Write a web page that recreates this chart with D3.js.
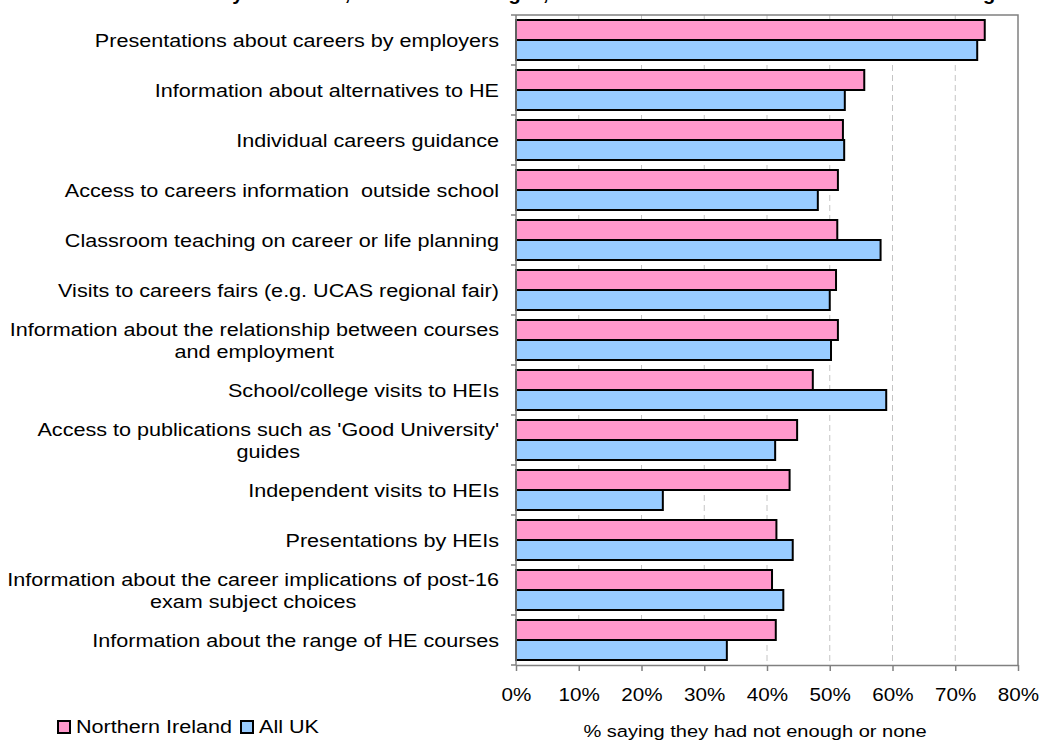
<!DOCTYPE html>
<html>
<head>
<meta charset="utf-8">
<script src="https://cdn.jsdelivr.net/npm/d3@7"></script>
<style>
  html, body { margin: 0; padding: 0; background: #ffffff; }
  svg { display: block; }
  text { font-family: "Liberation Sans", Arial, sans-serif; fill: #000; white-space: pre; }
</style>
</head>
<body>
<svg id="chart" width="1041" height="742"></svg>
<script>
// ---- data ----
const categories = [
  "Presentations about careers by employers",
  "Information about alternatives to HE",
  "Individual careers guidance",
  "Access to careers information  outside school",
  "Classroom teaching on career or life planning",
  "Visits to careers fairs (e.g. UCAS regional fair)",
  "Information about the relationship between courses\nand employment",
  "School/college visits to HEIs",
  "Access to publications such as 'Good University'\nguides",
  "Independent visits to HEIs",
  "Presentations by HEIs",
  "Information about the career implications of post-16\nexam subject choices",
  "Information about the range of HE courses"
];
const seriesNames = ["Northern Ireland", "All UK"];
const northernIreland = [74.7, 55.5, 52.1, 51.3, 51.2, 51.0, 51.3, 47.3, 44.8, 43.6, 41.5, 40.8, 41.4];
const allUK =           [73.5, 52.4, 52.3, 48.1, 58.1, 50.0, 50.2, 59.0, 41.3, 23.4, 44.1, 42.6, 33.6];
const tickValues = [0, 10, 20, 30, 40, 50, 60, 70, 80];
const axisTitle = "% saying they had not enough or none";
const titleText = "Activities rated by NI and UK, students of all ages, % of those who indicated there was not enough";

// ---- layout ----
const SX = 1.18;            // horizontal stretch of the source picture's text
const colors = ["#FF99CC", "#99CCFF"];
const plot = { left: 516, right: 1018, top: 15, bottom: 665 };

const svg = d3.select("#chart");

const x = d3.scaleLinear().domain([0, 80]).range([plot.left, plot.right]);
const y0 = d3.scaleBand().domain(categories).range([plot.top, plot.bottom]).padding(0);
const y1 = d3.scaleBand().domain(seriesNames).range([0, y0.bandwidth()])
  .paddingInner(0).paddingOuter(0.25);

const seriesValues = [northernIreland, allUK];

// ---- title (cut off above the visible area, as in the source) ----
const title = svg.append("text")
  .attr("font-weight", "bold")
  .attr("font-size", 17)
  .text(titleText);
{
  const idx = titleText.indexOf("by");
  const pre = title.node().getSubStringLength(0, idx + 1);
  const yw = title.node().getSubStringLength(idx + 1, 1);
  const tx = 238 - (pre + yw / 2) * SX;
  title.attr("transform", `translate(${tx},-0.5) scale(${SX},1.2)`);
}

// ---- gridlines ----
svg.append("g").selectAll("line")
  .data(tickValues.filter(d => d > 0 && d < 80))
  .join("line")
  .attr("x1", d => x(d)).attr("x2", d => x(d))
  .attr("y1", plot.top).attr("y2", plot.bottom)
  .attr("stroke", "#c4c4c4")
  .attr("stroke-width", 1)
  .attr("stroke-dasharray", "6,4");

// ---- plot border (top and right) ----
svg.append("path")
  .attr("d", `M${plot.left},${plot.top}H${plot.right}V${plot.bottom}`)
  .attr("fill", "none")
  .attr("stroke", "#808080")
  .attr("stroke-width", 1.5);

// ---- bars ----
const groups = svg.append("g").selectAll("g")
  .data(categories)
  .join("g")
  .attr("transform", c => `translate(0,${y0(c)})`);

groups.selectAll("rect")
  .data((c, i) => seriesNames.map((s, j) => ({ s, v: seriesValues[j][i], j })))
  .join("rect")
  .attr("x", x(0))
  .attr("y", d => y1(d.s))
  .attr("width", d => x(d.v) - x(0))
  .attr("height", y1.bandwidth())
  .attr("fill", d => colors[d.j])
  .attr("stroke", "#000")
  .attr("stroke-width", 2);

// ---- left axis (category axis with boundary ticks) ----
const leftAxis = svg.append("g");
leftAxis.append("line")
  .attr("x1", plot.left).attr("x2", plot.left)
  .attr("y1", plot.top).attr("y2", plot.bottom)
  .attr("stroke", "#808080").attr("stroke-width", 1.5);
const boundaries = categories.map(c => y0(c)).concat([y0(categories[categories.length - 1]) + y0.bandwidth()]);
leftAxis.selectAll("line.tick")
  .data(boundaries)
  .join("line")
  .attr("class", "tick")
  .attr("x1", plot.left - 5).attr("x2", plot.left)
  .attr("y1", d => d).attr("y2", d => d)
  .attr("stroke", "#808080").attr("stroke-width", 1.5);

// category labels
const labelRight = 499;
const lineGap = 22;
categories.forEach(c => {
  const lines = c.split("\n");
  const cy = y0(c) + y0.bandwidth() / 2;
  const g = svg.append("g");
  const texts = lines.map((ln, k) => g.append("text")
    .attr("font-size", 18.3)
    .text(ln));
  const widths = texts.map(t => t.node().getComputedTextLength() * SX);
  const W = d3.max(widths);
  const n = lines.length;
  texts.forEach((t, k) => {
    const by = cy + (k - (n - 1) / 2) * lineGap + 6.5;
    if (n === 1) {
      t.attr("text-anchor", "end")
       .attr("transform", `translate(${labelRight},${by}) scale(${SX},1)`);
    } else {
      t.attr("text-anchor", "middle")
       .attr("transform", `translate(${labelRight - W / 2},${by}) scale(${SX},1)`);
    }
  });
});

// ---- bottom axis ----
const bottomAxis = svg.append("g")
  .attr("transform", `translate(0,${plot.bottom})`)
  .call(d3.axisBottom(x).tickValues(tickValues).tickSize(6).tickSizeOuter(0)
    .tickFormat(d => d + "%"));
bottomAxis.select(".domain").attr("stroke", "#808080").attr("stroke-width", 1.5);
bottomAxis.selectAll(".tick line").attr("stroke", "#808080").attr("stroke-width", 1.5);
bottomAxis.selectAll(".tick text")
  .attr("font-family", "Liberation Sans, Arial, sans-serif")
  .attr("font-size", 17.5)
  .attr("fill", "#000")
  .attr("y", 0).attr("dy", 0)
  .attr("transform", `translate(0,36) scale(${SX},1)`);

// axis title
svg.append("text")
  .attr("font-size", 17)
  .attr("text-anchor", "middle")
  .attr("transform", `translate(755,737) scale(${SX},1)`)
  .text(axisTitle);

// ---- legend ----
const legend = svg.append("g");
const legendItems = [
  { name: seriesNames[0], color: colors[0], box: 58, text: 76 },
  { name: seriesNames[1], color: colors[1], box: 241, text: 259 }
];
legendItems.forEach(it => {
  legend.append("rect")
    .attr("x", it.box).attr("y", 721)
    .attr("width", 12).attr("height", 12)
    .attr("fill", it.color)
    .attr("stroke", "#000").attr("stroke-width", 2);
  legend.append("text")
    .attr("font-size", 18.3)
    .attr("transform", `translate(${it.text},733) scale(${SX},1)`)
    .text(it.name);
});
</script>
</body>
</html>
